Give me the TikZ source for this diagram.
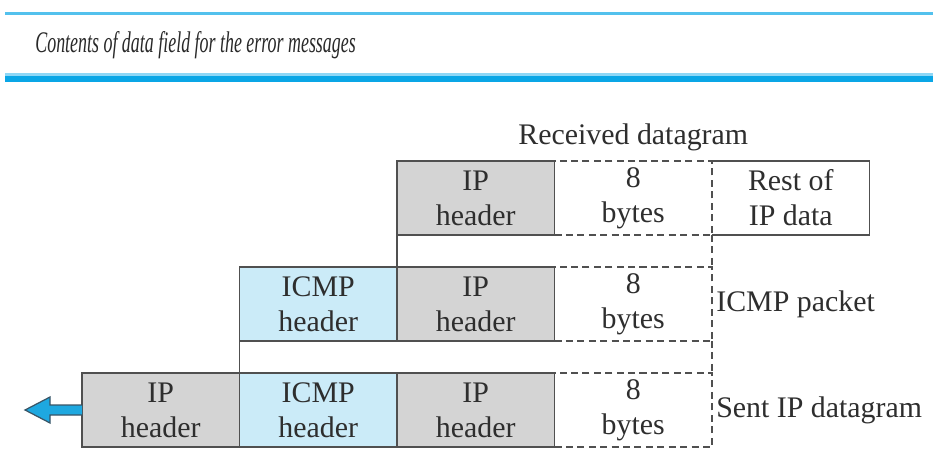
\documentclass[tikz,border=0pt]{standalone}
\usepackage{fontspec}
\setmainfont{Liberation Serif}
\usepackage{tikz}
\usetikzlibrary{positioning,calc}
\definecolor{hdrgray}{HTML}{D4D4D4}
\definecolor{icmpblue}{HTML}{CBEBF8}
\definecolor{rulecyan}{HTML}{0AA6E6}
\definecolor{rulelight}{HTML}{8ED7F6}
\definecolor{arrowblue}{HTML}{1EA8E0}
\definecolor{arrowedge}{HTML}{3A5566}
\definecolor{linegray}{HTML}{505050}
\definecolor{txtdark}{HTML}{2E2E2E}

\begin{document}
\begin{tikzpicture}[
    field/.style={minimum width=3.15cm, minimum height=1.48cm, inner sep=0pt, outer sep=0pt, align=center, font=\fontsize{17}{20}\selectfont, text=txtdark},
    iphdr/.style={field, draw=linegray, fill=hdrgray, line width=1pt},
    icmphdr/.style={field, draw=linegray, fill=icmpblue, line width=1pt},
    bytebox/.style={field, draw=linegray, line width=1pt, dash pattern=on 4pt off 2.5pt},
    restbox/.style={field},
    tag/.style={inner sep=0pt, font=\fontsize{17}{20}\selectfont, text=txtdark},
    link/.style={draw=linegray, line width=1pt},
    dlink/.style={link, dash pattern=on 4pt off 2.5pt},
]
    \useasboundingbox (0,0) rectangle (18.66,9.12);

    % title and rules
    \draw[rulecyan!70, line width=0.06cm] (0.1,8.84) -- (18.66,8.84);
    \node[anchor=base west, inner sep=0pt, text=txtdark!90!black, font=\fontsize{17}{20}\selectfont\itshape] (title) at (0.7,8.06) {\scalebox{0.60}[1]{Contents of data field for the error messages}};
    \draw[rulelight, line width=0.06cm] (0.1,7.63) -- (18.66,7.63);
    \draw[rulecyan, line width=0.12cm] (0.1,7.54) -- (18.66,7.54);

    % sent IP datagram
    \node[iphdr] (r3ip) at (3.215,0.92) {IP\\header};
    \node[icmphdr, right=0pt of r3ip] (r3icmp) {ICMP\\header};
    \node[iphdr, right=0pt of r3icmp] (r3orig) {IP\\header};
    \node[bytebox, right=0pt of r3orig] (r3byt) {8\\bytes};
    \node[tag, right=0.08cm of r3byt] (sent) {Sent IP datagram};

    % ICMP packet
    \node[icmphdr, above=0.64cm of r3icmp] (r2icmp) {ICMP\\header};
    \node[iphdr, right=0pt of r2icmp] (r2orig) {IP\\header};
    \node[bytebox, right=0pt of r2orig] (r2byt) {8\\bytes};
    \node[tag, right=0.08cm of r2byt] (icmppkt) {ICMP packet};

    % received datagram
    \node[iphdr, above=0.64cm of r2orig] (r1orig) {IP\\header};
    \node[bytebox, right=0pt of r1orig] (r1byt) {8\\bytes};
    \node[restbox, right=0pt of r1byt] (r1rest) {Rest of\\IP data};
    \draw[link] (r1rest.north west) -- (r1rest.north east) -- (r1rest.south east) -- (r1rest.south west);
    \node[tag, above=0.32cm of r1byt, anchor=base] (rcvd) {Received datagram};

    \draw[link] (r1orig.south west) -- (r2orig.north west);
    \draw[dlink] (r1byt.south east) -- (r2byt.north east);
    \draw[link] (r2icmp.south west) -- (r3icmp.north west);
    \draw[dlink] (r2byt.south east) -- (r3byt.north east);

    % outgoing arrow
    \draw[fill=arrowblue, draw=arrowedge, line width=0.7pt] ([yshift=0.1cm]r3ip.west) -- ++(-0.64,0) -- ++(0,0.16) -- ++(-0.5,-0.26) -- ++(0.5,-0.26) -- ++(0,0.16) -- ([yshift=-0.1cm]r3ip.west);
\end{tikzpicture}
\end{document}
